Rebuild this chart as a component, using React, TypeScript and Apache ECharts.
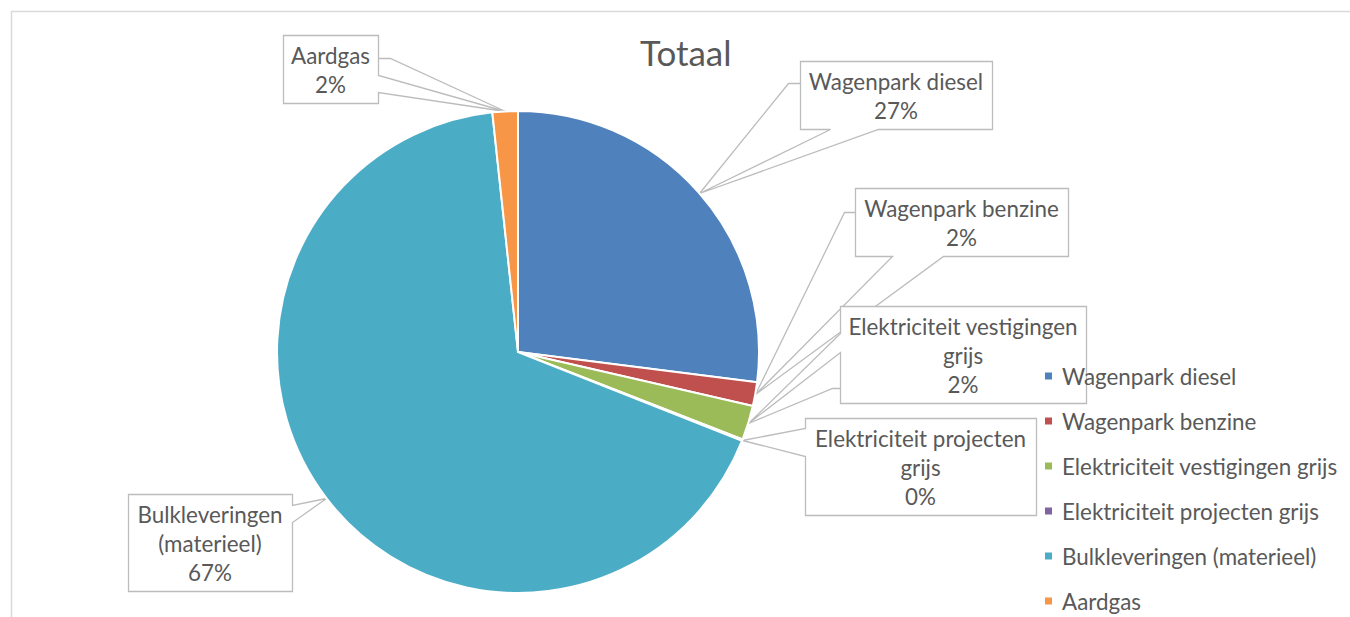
import React, { useEffect, useRef } from "react";
import * as echarts from "echarts";

const title = "Totaal";
const categories = [
  "Wagenpark diesel",
  "Wagenpark benzine",
  "Elektriciteit vestigingen grijs",
  "Elektriciteit projecten grijs",
  "Bulkleveringen (materieel)",
  "Aardgas",
];
const shares = [27.0, 1.6, 2.3, 0.1, 67.3, 1.7];
const labelTexts = [
  "Wagenpark diesel",
  "Wagenpark benzine",
  "Elektriciteit vestigingen\ngrijs",
  "Elektriciteit projecten\ngrijs",
  "Bulkleveringen\n(materieel)",
  "Aardgas",
];
const colors = ["#4f81bd", "#c0504d", "#9bbb59", "#8064a2", "#4bacc6", "#f79646"];

// callout layout (pixels): box [x0,y0,x1,y1], wedge side + base span, leader start/elbow
const callouts: any[] = [
  { box: [800, 61, 992, 129], side: "bottom", base: [830, 878], leader: [[800, 83], [788, 83]] },
  { box: [855, 188, 1068, 256], side: "bottom", base: [892, 943], leader: [[855, 212], [844, 212]] },
  { box: [840, 306, 1086, 403], side: "left", base: [333, 352], leader: [[840, 388], [832, 388]] },
  { box: [805, 418, 1036, 515], side: "left", base: [428, 456], leader: null },
  { box: [128, 494, 292, 591], side: "right", base: [505, 522], leader: null },
  { box: [283, 35, 378, 103], side: "right", base: [75, 92], leader: [[378, 58], [390, 58]] },
];

const CX = 518;
const CY = 352;
const R = 241;
const FONT = 'Lato, "Open Sans", sans-serif';
const TEXT = "#595959";
const LINE = "#bcbcbc";
const FS = 22.4;

function calloutPoly(c: any, tip: number[]) {
  const [x0, y0, x1, y1] = c.box;
  const [a, b] = c.base;
  const pts: number[][] = [];
  pts.push([x0, y0]);
  if (c.side === "top") pts.push([a, y0], tip, [b, y0]);
  pts.push([x1, y0]);
  if (c.side === "right") pts.push([x1, a], tip, [x1, b]);
  pts.push([x1, y1]);
  if (c.side === "bottom") pts.push([b, y1], tip, [a, y1]);
  pts.push([x0, y1]);
  if (c.side === "left") pts.push([x0, b], tip, [x0, a]);
  return pts.map((p) => [Math.round(p[0]) + 0.5, Math.round(p[1]) + 0.5]);
}

export default function App() {
  const ref = useRef<HTMLDivElement>(null);
  useEffect(() => {
    const chart = echarts.init(ref.current!, null, { renderer: "svg" });
    chart.setOption({
      animation: false,
      backgroundColor: "#ffffff",
      title: {
        text: title,
        left: 640,
        top: 34,
        padding: 0,
        textStyle: { fontFamily: FONT, fontSize: 35, fontWeight: "normal", color: TEXT },
      },
      legend: {
        type: "plain",
        orient: "vertical",
        left: 1043,
        top: 365,
        height: 400,
        padding: 0,
        itemWidth: 9,
        itemHeight: 9,
        itemGap: 23,
        icon: "rect",
        selectedMode: false,
        data: categories,
        textStyle: { fontFamily: FONT, fontSize: FS, color: TEXT, padding: [0, 0, 0, 4] },
      },
      series: [
        {
          type: "pie",
          z: 2,
          center: [CX, CY],
          radius: R,
          startAngle: 90,
          clockwise: true,
          avoidLabelOverlap: false,
          emphasis: { disabled: true },
          itemStyle: { borderColor: "#ffffff", borderWidth: 2 },
          label: {
            show: true,
            position: "outside",
            color: TEXT,
            fontFamily: FONT,
            fontSize: FS,
            lineHeight: 29,
            formatter: (p: any) => labelTexts[p.dataIndex] + "\n" + Math.round(p.percent) + "%",
          },
          labelLine: { show: false },
          labelLayout: (p: any) => {
            const b = callouts[p.dataIndex].box;
            return { x: (b[0] + b[2]) / 2, y: (b[1] + b[3]) / 2 + 1, align: "center", verticalAlign: "middle" };
          },
          data: categories.map((c, i) => ({ name: c, value: shares[i], itemStyle: { color: colors[i] } })),
        },
      ],
    });

    // tips of callouts: outer edge of each slice at its mid angle
    const tips: number[][] = [];
    try {
      const d = (chart as any).getModel().getSeriesByIndex(0).getData();
      for (let i = 0; i < shares.length; i++) {
        const l = d.getItemLayout(i);
        const m = (l.startAngle + l.endAngle) / 2;
        tips.push([l.cx + l.r * Math.cos(m), l.cy + l.r * Math.sin(m)]);
      }
    } catch (e) {
      tips.length = 0;
      const total = shares.reduce((s, v) => s + v, 0);
      let cum = 0;
      for (let i = 0; i < shares.length; i++) {
        const m = -Math.PI / 2 + ((cum + shares[i] / 2) / total) * Math.PI * 2;
        cum += shares[i];
        tips.push([CX + R * Math.cos(m), CY + R * Math.sin(m)]);
      }
    }

    const graphics: any[] = [
      {
        type: "rect",
        silent: true,
        z: -20,
        shape: { x: 11.5, y: 11.5, width: 1400, height: 700 },
        style: { fill: "none", stroke: "#d9d9d9", lineWidth: 1.5 },
      },
    ];
    callouts.forEach((c, i) => {
      if (c.leader) {
        graphics.push({
          type: "polyline",
          silent: true,
          z: -15,
          shape: { points: [c.leader[0], c.leader[1], tips[i]].map((p: number[]) => [Math.round(p[0]) + 0.5, Math.round(p[1]) + 0.5]) },
          style: { fill: "none", stroke: LINE, lineWidth: 1.3 },
        });
      }
    });
    callouts.forEach((c, i) => {
      graphics.push({
        type: "polygon",
        silent: true,
        z: -10 + i,
        shape: { points: calloutPoly(c, tips[i]) },
        style: { fill: "#ffffff", stroke: LINE, lineWidth: 1.3, lineJoin: "miter" },
      });
    });
    chart.setOption({ graphic: graphics });

    return () => chart.dispose();
  }, []);
  return <div ref={ref} style={{ position: "fixed", left: 0, top: 0, width: 1350, height: 617 }} />;
}
